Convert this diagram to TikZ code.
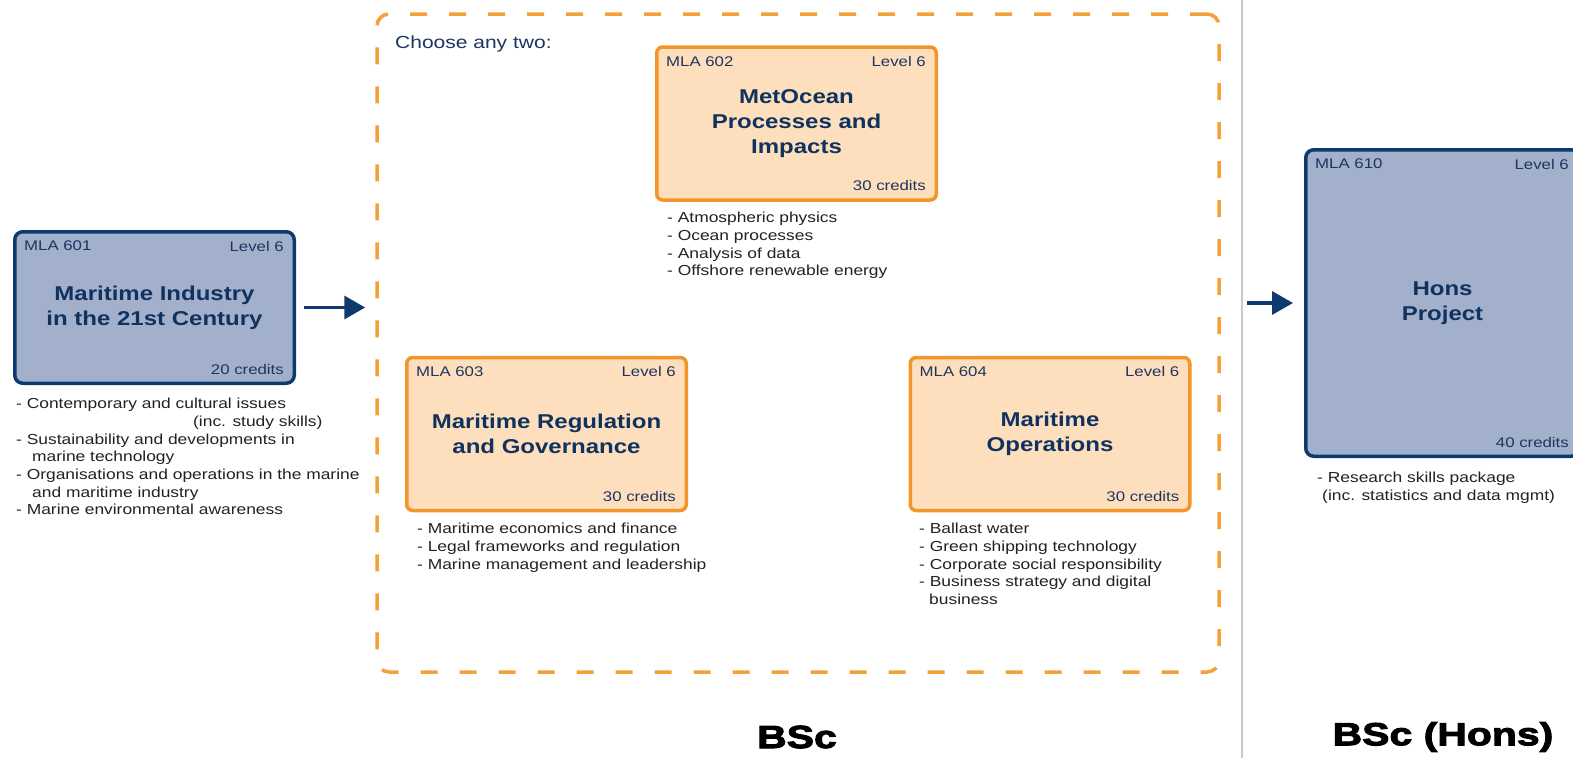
\documentclass[tikz,border=0pt]{standalone}
\usepackage{fontspec}
\setmainfont{Liberation Sans}[FakeStretch=1.2]
\newfontfamily\heavyfont{Liberation Sans Bold}[FakeStretch=1.28,FakeBold=3]
\usetikzlibrary{arrows.meta,positioning}
\definecolor{navyline}{HTML}{0D3B6E}
\definecolor{bluefill}{HTML}{A3B0CB}
\definecolor{titlenavy}{HTML}{10325F}
\definecolor{headnavy}{HTML}{1E3560}
\definecolor{orangeline}{HTML}{F2952A}
\definecolor{orangefill}{HTML}{FDDFBE}
\definecolor{dashorange}{HTML}{F4A13A}
\definecolor{bodygray}{HTML}{222222}
\definecolor{splitgray}{HTML}{C9C9C9}
\newcommand\bodysize{\fontsize{14.5}{17.7}\selectfont}
\newcommand\headsize{\fontsize{14}{17}\selectfont}
\newcommand\titlesize{\fontsize{20}{25}\selectfont\bfseries}
\tikzset{
	modblue/.style={draw=navyline,fill=bluefill,line width=3.5pt,rounded corners=8pt,align=center,text=titlenavy,font=\titlesize,inner sep=0pt},
	modorange/.style={draw=orangeline,fill=orangefill,line width=3.5pt,rounded corners=6pt,align=center,text=titlenavy,font=\titlesize,inner sep=0pt,minimum width=279.5pt,minimum height=153pt},
	modhead/.style={font=\headsize,text=headnavy,inner sep=0pt},
	topics/.style={font=\bodysize,text=bodygray,align=left,inner sep=0pt,anchor=north west},
	flowarrow/.style={draw=navyline,line width=3.5pt,-{Triangle[length=21pt,width=23pt]}},
	degree/.style={font=\heavyfont\fontsize{32}{36}\selectfont,inner sep=0pt}
}
\begin{document}
\begin{tikzpicture}[x=1pt,y=1pt]
				\useasboundingbox (0,0) rectangle (1573,-758);
				\clip (0,0) rectangle (1573,-758);
				\fill[white] (0,0) rectangle (1573,-758);
				\coordinate (splittop) at (1242,0);
				\coordinate (splitbot) at (1242,-758);
				\draw[splitgray,line width=2.5pt] (splittop) -- (splitbot);
				\node[draw=dashorange,line width=3.5pt,dash pattern=on 17pt off 22pt,rounded corners=12pt,minimum width=842pt,minimum height=658pt] (choice) at (798,-343) {};
				\node[font=\fontsize{17.5}{20}\selectfont,text=headnavy,anchor=west,inner sep=0pt] (choosetwo) at (395,-44) {Choose any two:};
				\node[modblue,minimum width=279.5pt,minimum height=151.5pt] (m601) at (154.5,-307.5) {Maritime Industry\\in the 21st Century};
				\node[modorange] (m602) at (796.5,-123.5) {MetOcean\\Processes and\\Impacts};
				\node[modorange] (m603) at (546.5,-434) {Maritime Regulation\\and Governance};
				\node[modorange] (m604) at (1050,-434) {Maritime\\Operations};
				\node[modblue,minimum width=273.5pt,minimum height=306.5pt] (m610) at (1442.5,-303) {Hons\\Project};
				\foreach \n/\c in {601/20,602/30,603/30,604/30,610/40}{
					\node[modhead,anchor=west] (code\n) at ([shift={(11,-16)}]m\n.north west) {MLA \n};
					\node[modhead,anchor=east] (level\n) at ([shift={(-12,-16)}]m\n.north east) {Level 6};
					\node[modhead,anchor=east] (credits\n) at ([shift={(-12,16)}]m\n.south east) {\c\ credits};
				}
				\node[topics] (topics601) at (16,-398) {- Contemporary and cultural issues\\\hspace*{177pt}(inc. study skills)\\- Sustainability and developments in\\\hspace*{16pt}marine technology\\- Organisations and operations in the marine\\\hspace*{16pt}and maritime industry\\- Marine environmental awareness};
				\node[topics] (topics602) at (667,-212) {- Atmospheric physics\\- Ocean processes\\- Analysis of data\\- Offshore renewable energy};
				\node[topics] (topics603) at (417,-523) {- Maritime economics and finance\\- Legal frameworks and regulation\\- Marine management and leadership};
				\node[topics] (topics604) at (919,-523) {- Ballast water\\- Green shipping technology\\- Corporate social responsibility\\- Business strategy and digital\\\hspace*{10pt}business};
				\node[topics] (topics610) at (1317,-472) {- Research skills package\\\hspace*{5pt}(inc. statistics and data mgmt)};
				\draw[flowarrow,shorten <=8pt,shorten >=10pt] (m601.east) -- (m601.east -| choice.west);
				\draw[flowarrow,shorten <=5pt,shorten >=11pt] (m610.west -| splittop) -- (m610.west);
				\node[degree] (bsc) at (797,-737) {BSc};
				\node[degree] (bschons) at (1443,-737) {BSc (Hons)};
			\end{tikzpicture}
\end{document}
